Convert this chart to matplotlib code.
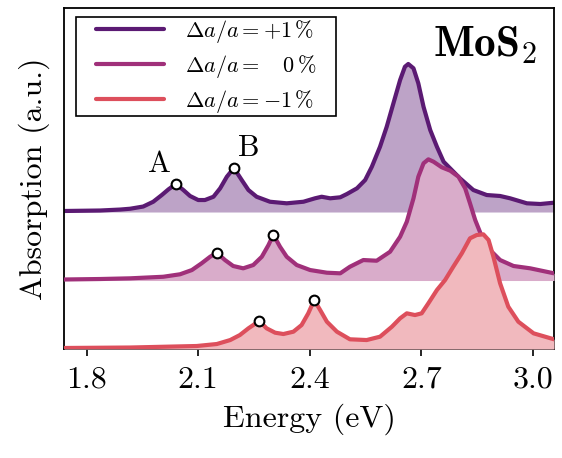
import numpy as np
import matplotlib
matplotlib.use('Agg')
import matplotlib.pyplot as plt
from matplotlib.colors import to_rgb
from matplotlib.patches import Rectangle

plt.rcParams['font.family'] = 'serif'
plt.rcParams['font.serif'] = ['cmr10', 'DejaVu Serif']
plt.rcParams['mathtext.fontset'] = 'cm'
plt.rcParams['axes.formatter.use_mathtext'] = True

# spectra (energy in eV, absorption in a.u. above own baseline)
e_plus = [1.739, 1.836, 1.890, 1.917, 1.952, 1.979, 2.002, 2.020, 2.040, 2.060, 2.078,
          2.100, 2.118, 2.141, 2.159, 2.177, 2.196, 2.217, 2.235, 2.257, 2.293, 2.338,
          2.383, 2.414, 2.432, 2.455, 2.482, 2.500, 2.527, 2.549, 2.567, 2.589, 2.607,
          2.625, 2.643, 2.656, 2.665, 2.679, 2.692, 2.706, 2.724, 2.742, 2.760, 2.804,
          2.840, 2.876, 2.912, 2.939, 2.984, 3.020, 3.057]
a_plus = [0.015, 0.022, 0.036, 0.048, 0.080, 0.150, 0.248, 0.331, 0.409, 0.321, 0.234,
          0.175, 0.175, 0.223, 0.346, 0.515, 0.642, 0.467, 0.321, 0.223, 0.150, 0.127,
          0.150, 0.200, 0.223, 0.200, 0.215, 0.263, 0.346, 0.467, 0.661, 0.953, 1.245,
          1.587, 1.927, 2.121, 2.161, 2.098, 1.879, 1.537, 1.197, 0.953, 0.734, 0.492,
          0.321, 0.248, 0.234, 0.200, 0.127, 0.117, 0.136]

e_zero = [1.739, 1.836, 1.917, 2.006, 2.051, 2.083, 2.109, 2.132, 2.150, 2.172, 2.194,
          2.221, 2.248, 2.271, 2.289, 2.302, 2.320, 2.338, 2.365, 2.401, 2.446, 2.482,
          2.508, 2.544, 2.580, 2.616, 2.643, 2.661, 2.679, 2.692, 2.706, 2.719, 2.733,
          2.755, 2.778, 2.800, 2.818, 2.831, 2.845, 2.863, 2.885, 2.912, 2.948, 2.993,
          3.057]
a_zero = [0.015, 0.022, 0.032, 0.055, 0.091, 0.153, 0.251, 0.347, 0.406, 0.299, 0.212,
          0.178, 0.226, 0.347, 0.518, 0.669, 0.493, 0.347, 0.226, 0.153, 0.114, 0.105,
          0.201, 0.299, 0.289, 0.420, 0.639, 0.858, 1.200, 1.515, 1.711, 1.769, 1.734,
          1.653, 1.603, 1.515, 1.346, 1.127, 0.883, 0.639, 0.445, 0.299, 0.212, 0.178,
          0.105]

e_minus = [1.739, 1.917, 2.096, 2.150, 2.186, 2.212, 2.235, 2.264, 2.284, 2.307, 2.329,
           2.356, 2.378, 2.396, 2.412, 2.428, 2.446, 2.473, 2.508, 2.553, 2.589, 2.621,
           2.643, 2.661, 2.683, 2.701, 2.719, 2.742, 2.764, 2.786, 2.809, 2.831, 2.849,
           2.867, 2.881, 2.894, 2.912, 2.934, 2.961, 3.002, 3.057]
a_minus = [0.015, 0.022, 0.044, 0.073, 0.131, 0.204, 0.302, 0.409, 0.302, 0.238, 0.219,
           0.253, 0.350, 0.521, 0.715, 0.569, 0.399, 0.253, 0.142, 0.131, 0.180, 0.326,
           0.448, 0.521, 0.496, 0.521, 0.667, 0.861, 1.007, 1.201, 1.397, 1.616, 1.664,
           1.674, 1.591, 1.347, 0.959, 0.618, 0.399, 0.229, 0.142]

# A and B exciton positions (energy, absorption)
ab_plus = ([2.040, 2.196], [0.409, 0.642])
ab_zero = ([2.150, 2.302], [0.406, 0.669])
ab_minus = ([2.264, 2.412], [0.409, 0.715])

labels = [r'$\Delta a/a = +1\,\%$',
          r'$\Delta a/a =\quad 0\,\%$',
          r'$\Delta a/a = -1\,\%$']
colors = ['#5b1a73', '#a0307a', '#dd4f5c']
offsets = [2, 1, 0]
ticks = [1.8, 2.1, 2.4, 2.7, 3.0]

fig = plt.figure(figsize=(5.62, 4.58), dpi=100)
ax = fig.add_axes([0.1139, 0.2369, 0.8719, 0.7456])

curves = [(e_plus, a_plus, ab_plus), (e_zero, a_zero, ab_zero), (e_minus, a_minus, ab_minus)]
z = 1
for (e, a, ab), c, off, lab in zip(curves, colors, offsets, labels):
    y = np.array(a) + off
    rgb = np.array(to_rgb(c))
    tint = 1 - 0.4 * (1 - rgb)
    ax.fill_between(e, off, y, color=tint, lw=0, zorder=z)
    ax.plot(e, y, color=c, lw=3, label=lab, zorder=z + 1,
            solid_capstyle='round', solid_joinstyle='round')
    ax.plot(ab[0], np.array(ab[1]) + off, 'o', ms=7, mfc='white', mec='black',
            mew=1.5, zorder=20)
    z += 2

ax.text(1.9945, 2.701, 'A', fontsize=22, ha='center', va='center')
ax.text(2.2367, 2.935, 'B', fontsize=22, ha='center', va='center')
ax.text(0.9653, 0.952, r'$\mathbf{MoS_2}$', fontsize=31, ha='right', va='top',
        transform=ax.transAxes)

ax.set_xlim(1.739, 3.057)
ax.set_ylim(-0.007, 4.978)
ax.set_xticks(ticks)
ax.set_xticklabels(['%.1f' % t for t in ticks])
ax.set_yticks([])
ax.tick_params(axis='x', direction='out', length=5, width=1.2, labelsize=23, pad=7)
for s in ax.spines.values():
    s.set_linewidth(1.3)
ax.set_xlabel('Energy (eV)', fontsize=23, labelpad=7)
ax.set_ylabel('Absorption (a.u.)', fontsize=23, labelpad=10)

# legend box
ax.add_patch(Rectangle((0.0239, 0.6837), 0.5306, 0.2891, transform=ax.transAxes,
                       facecolor='white', edgecolor='black', lw=1.2, zorder=29))
leg = ax.legend(loc='center left', bbox_to_anchor=(0.0647, 0.830), fontsize=16,
                frameon=False, handlelength=3.06, handletextpad=0.94,
                labelspacing=0.36, borderpad=0, borderaxespad=0)
leg.set_zorder(30)

plt.savefig('out.png', dpi=100)
